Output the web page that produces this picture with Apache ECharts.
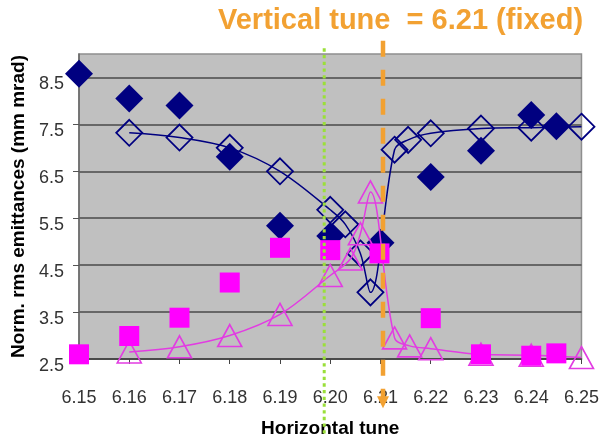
<!DOCTYPE html>
<html>
<head>
<meta charset="utf-8">
<script src="https://cdn.jsdelivr.net/npm/echarts@6/dist/echarts.min.js"></script>
<style>
  html, body { margin: 0; padding: 0; background: #fff; }
  #chart { width: 602px; height: 443px; }
</style>
</head>
<body>
<div id="chart"></div>
<script>
// tick labels
const xTicks = [6.15, 6.16, 6.17, 6.18, 6.19, 6.20, 6.21, 6.22, 6.23, 6.24, 6.25]
const yTicks = [2.5, 3.5, 4.5, 5.5, 6.5, 7.5, 8.5]

// measured horizontal emittance (filled diamonds)
const hMeasX = [6.15, 6.16, 6.17, 6.18, 6.19, 6.20, 6.21, 6.22, 6.23, 6.24, 6.245]
const hMeasY = [8.58, 8.05, 7.90, 6.81, 5.34, 5.12, 4.98, 6.38, 6.94, 7.70, 7.46]

// simulated horizontal emittance (open diamonds + line)
const hSimX = [6.16, 6.17, 6.18, 6.19, 6.20, 6.203, 6.206, 6.208, 6.2128, 6.2155, 6.22, 6.23, 6.24, 6.25]
const hSimY = [7.32, 7.22, 7.00, 6.50, 5.68, 5.37, 4.75, 3.92, 6.96, 7.17, 7.31, 7.41, 7.43, 7.45]

// measured vertical emittance (filled squares)
const vMeasX = [6.15, 6.16, 6.17, 6.18, 6.19, 6.20, 6.2098, 6.22, 6.23, 6.24, 6.245]
const vMeasY = [2.60, 2.99, 3.38, 4.13, 4.87, 4.82, 4.75, 3.37, 2.60, 2.57, 2.62]

// simulated vertical emittance (open triangles + line)
const vSimX = [6.16, 6.17, 6.18, 6.19, 6.20, 6.204, 6.206, 6.208, 6.2128, 6.2158, 6.22, 6.23, 6.24, 6.25]
const vSimY = [2.65, 2.76, 3.00, 3.45, 4.28, 4.63, 5.17, 6.06, 2.95, 2.78, 2.72, 2.60, 2.58, 2.53]

// vertical marker lines
const resonanceTune = 6.1988
const fixedTune = 6.2105

const zip = (xs, ys) => xs.map((x, i) => [x, ys[i]])

const navy = '#000080'
const magenta = '#FF00FF'
const pinkLine = '#E23CE2'
const orange = '#F2A132'
const green = '#9ADF3A'
const font = 'Liberation Sans, Arial, sans-serif'

const chart = echarts.init(document.getElementById('chart'))
chart.setOption({
    animation: false,
    title: {
        text: 'Vertical tune  = 6.21 (fixed)',
        left: 213,
        top: 1,
        textStyle: { color: orange, fontSize: 29, fontWeight: 'bold', fontFamily: font }
    },
    grid: {
        left: 79, right: 20, top: 54, bottom: 76,
        show: true,
        backgroundColor: '#C0C0C0',
        borderColor: '#8e8e8e',
        borderWidth: 1.5
    },
    xAxis: {
        type: 'value',
        min: 6.15,
        max: 6.25,
        name: 'Horizontal tune',
        nameLocation: 'middle',
        nameGap: 60,
        nameTextStyle: { color: '#000', fontSize: 19, fontWeight: 'bold', fontFamily: font },
        axisLine: { lineStyle: { color: '#444', width: 1.5 } },
        axisTick: { show: true, length: 5, lineStyle: { color: '#444' }, customValues: xTicks },
        axisLabel: {
            customValues: xTicks,
            margin: 30,
            color: '#333',
            fontSize: 18,
            fontFamily: font,
            formatter: v => v.toFixed(2)
        },
        splitLine: { show: false }
    },
    yAxis: {
        type: 'value',
        min: 2.5,
        max: 9,
        name: 'Norm. rms emittances (mm mrad)',
        nameLocation: 'middle',
        nameGap: 48,
        nameTextStyle: { color: '#000', fontSize: 19, fontWeight: 'bold', fontFamily: font },
        axisLine: { show: true, lineStyle: { color: '#666', width: 1.5 } },
        axisTick: { show: true, length: 6, lineStyle: { color: '#555' }, customValues: yTicks },
        axisLabel: {
            customValues: yTicks,
            margin: 15,
            color: '#333',
            fontSize: 18,
            fontFamily: font,
            verticalAlign: 'top',
            lineHeight: 14,
            formatter: v => v.toFixed(1)
        },
        splitLine: { show: true, lineStyle: { color: '#4a4a4a', width: 1.6 } }
    },
    series: [
        {
            name: 'sim H',
            type: 'line',
            data: zip(hSimX, hSimY),
            smooth: 0.35,
            z: 2,
            symbol: 'diamond',
            symbolSize: 26,
            lineStyle: { color: navy, width: 1.5 },
            itemStyle: { color: 'rgba(0,0,0,0)', borderColor: navy, borderWidth: 1.8 }
        },
        {
            name: 'meas H',
            type: 'scatter',
            data: zip(hMeasX, hMeasY),
            z: 3,
            symbol: 'diamond',
            symbolSize: 28,
            itemStyle: { color: navy, opacity: 1 }
        },
        {
            name: 'sim V',
            type: 'line',
            data: zip(vSimX, vSimY),
            smooth: 0.35,
            z: 4,
            symbol: 'triangle',
            symbolSize: [24, 22],
            lineStyle: { color: pinkLine, width: 1.5 },
            itemStyle: { color: 'rgba(0,0,0,0)', borderColor: pinkLine, borderWidth: 1.6 }
        },
        {
            name: 'meas V',
            type: 'scatter',
            data: zip(vMeasX, vMeasY),
            z: 5,
            symbol: 'rect',
            symbolSize: 20,
            itemStyle: { color: magenta, opacity: 1 }
        },
        {
            // the two vertical tune markers, they run past the plot area
            type: 'custom',
            z: 10,
            clip: false,
            silent: true,
            data: [[resonanceTune, 5], [fixedTune, 5]],
            encode: { x: 0, y: 1 },
            renderItem: (params, api) => {
                const x = api.value(0)
                if (params.dataIndex === 0) {
                    const top = api.coord([x, 9.12])
                    const bot = api.coord([x, 0.9])
                    return {
                        type: 'line',
                        shape: { x1: top[0], y1: top[1], x2: bot[0], y2: bot[1] },
                        style: { stroke: green, lineWidth: 3, lineDash: [3.3, 3.4] }
                    }
                }
                const top = api.coord([x, 9.28])
                const tip = api.coord([x, 1.45])
                return {
                    type: 'group',
                    children: [
                        {
                            type: 'line',
                            shape: { x1: top[0], y1: top[1], x2: tip[0], y2: tip[1] - 10 },
                            style: { stroke: orange, lineWidth: 4.5, lineDash: [16, 13] }
                        },
                        {
                            type: 'polygon',
                            shape: { points: [[tip[0] - 6, tip[1] - 12], [tip[0] + 6, tip[1] - 12], [tip[0], tip[1]]] },
                            style: { fill: orange }
                        }
                    ]
                }
            }
        }
    ]
})
</script>
</body>
</html>
